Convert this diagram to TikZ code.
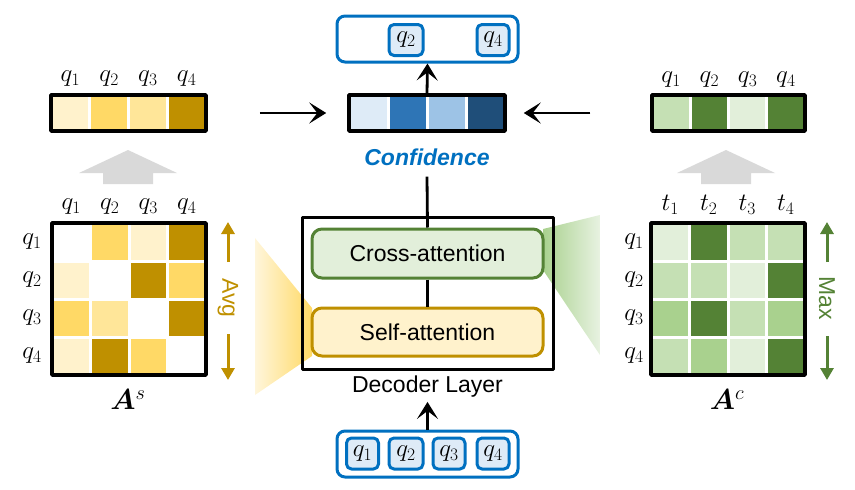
\RequirePackage{fix-cm}
\documentclass[tikz,border=0pt]{standalone}
\usepackage{bm}
\usepackage{fontspec}
\newfontfamily\arial{Liberation Sans}
\usetikzlibrary{arrows.meta}
\definecolor{Y1}{HTML}{FFF2CC}
\definecolor{Y2}{HTML}{FFE699}
\definecolor{Y3}{HTML}{FFD966}
\definecolor{Y4}{HTML}{BF9000}
\definecolor{G1}{HTML}{E2EFDA}
\definecolor{G2}{HTML}{C5E0B4}
\definecolor{G3}{HTML}{A9D18E}
\definecolor{G4}{HTML}{548235}
\definecolor{B1}{HTML}{DEEBF7}
\definecolor{B2}{HTML}{9DC3E6}
\definecolor{B3}{HTML}{2E75B6}
\definecolor{B4}{HTML}{1F4E79}
\definecolor{cblue}{HTML}{0070C0}
\definecolor{gbig}{HTML}{D9D9D9}
\begin{document}
\begin{tikzpicture}[x=1pt,y=-1pt,line join=round,
  lbl/.style={font=\fontsize{25}{29}\selectfont, inner sep=0pt},
  sans/.style={font=\arial\fontsize{23}{27}\selectfont},
  arr/.style={-{Stealth[length=17pt,width=21pt,inset=8pt]}, line width=2.8pt},
  cellgap/.style={white,line width=3pt},
  frame/.style={draw=black,line width=3.5pt,inner sep=0pt,fill=none},
  bluebox/.style={draw=cblue,line width=3pt,rounded corners=8pt,fill=white,inner sep=0pt,minimum width=181pt,minimum height=46pt},
  qbox/.style={draw=cblue,line width=3pt,rounded corners=5pt,fill=B1,inner sep=0pt,minimum width=32pt,minimum height=31pt,font=\fontsize{25}{29}\selectfont},
  attbox/.style={line width=3pt,rounded corners=10pt,minimum width=231pt,minimum height=48pt,inner sep=0pt,sans},
  sidearr/.style={-{Triangle[length=12pt,width=13pt]}, line width=3pt},
  bigarrow/.style={fill=gbig},
]
\useasboundingbox (0,0) rectangle (855,490);

% ---------- fading projections ----------
\shade[left color=Y1!70!white, right color=Y3] (255,238) -- (312,308) -- (312,356) -- (255,395) -- cycle;
\shade[left color=G3, right color=G1!80!white] (543,229) -- (600,215) -- (600,355) -- (543,270) -- cycle;

% ---------- left matrix A^s ----------
\foreach \row [count=\r from 0] in {{white,Y3,Y1,Y4},{Y1,white,Y4,Y3},{Y3,Y2,white,Y4},{Y1,Y4,Y3,white}}
  \foreach \c [count=\i from 0] in \row
    \fill[\c] ({52+\i*38.5},{223+\r*38}) rectangle ++(38.5,38);
\foreach \k in {1,2,3} {
  \draw[cellgap] ({52+\k*38.5},223) -- ++(0,152);
  \draw[cellgap] (52,{223+\k*38}) -- ++(154,0);
}
\node[frame,minimum width=154pt,minimum height=152pt] (lmat) at (129,299) {};
\foreach \i in {1,2,3,4} {
  \node[lbl] (lmc\i) at ({52+19.25+(\i-1)*38.5},207) {$q_{\i}$};
  \node[lbl] (lmr\i) at (32,{223+19+(\i-1)*38}) {$q_{\i}$};
}
\node[inner sep=0pt,font=\fontsize{29}{33}\selectfont] (As) at (128,400) {$\bm{A}^{s}$};

% Avg arrows
\node[sans,text=Y4,rotate=-90,inner sep=0pt] (avg) at (228,298) {Avg};
\coordinate (avgU1) at (228,262); \coordinate (avgU2) at (228,222);
\coordinate (avgD1) at (228,334); \coordinate (avgD2) at (228,380);
\draw[sidearr,Y4] (avgU1) -- (avgU2);
\draw[sidearr,Y4] (avgD1) -- (avgD2);

% ---------- right matrix A^c ----------
\foreach \row [count=\r from 0] in {{G1,G4,G2,G2},{G2,G2,G1,G4},{G3,G4,G2,G3},{G2,G3,G1,G4}}
  \foreach \c [count=\i from 0] in \row
    \fill[\c] ({651+\i*38.5},{223+\r*38}) rectangle ++(38.5,38);
\foreach \k in {1,2,3} {
  \draw[cellgap] ({651+\k*38.5},223) -- ++(0,152);
  \draw[cellgap] (651,{223+\k*38}) -- ++(154,0);
}
\node[frame,minimum width=154pt,minimum height=152pt] (rmat) at (728,299) {};
\foreach \i in {1,2,3,4} {
  \node[lbl] (rmc\i) at ({651+19.25+(\i-1)*38.5},205) {$t_{\i}$};
  \node[lbl] (rmr\i) at (634,{223+19+(\i-1)*38}) {$q_{\i}$};
}
\node[inner sep=0pt,font=\fontsize{29}{33}\selectfont] (Ac) at (727,400) {$\bm{A}^{c}$};

% Max arrows
\node[sans,text=G4,rotate=-90,inner sep=0pt] (max) at (827,298) {Max};
\coordinate (maxU1) at (827,262); \coordinate (maxU2) at (827,222);
\coordinate (maxD1) at (827,336); \coordinate (maxD2) at (827,380);
\draw[sidearr,G4] (maxU1) -- (maxU2);
\draw[sidearr,G4] (maxD1) -- (maxD2);

% ---------- gray block arrows ----------
\fill[bigarrow] (103,184) -- (103,173) -- (79,173) -- (128,150) -- (177,173) -- (153,173) -- (153,184) -- cycle;
\fill[bigarrow] (701,184) -- (701,173) -- (677,173) -- (726,150) -- (775,173) -- (751,173) -- (751,184) -- cycle;

% ---------- top-left bar ----------
\foreach \c [count=\i from 0] in {Y1,Y3,Y2,Y4}
  \fill[\c] ({51+\i*38.75},95) rectangle ++(38.75,36);
\foreach \k in {1,2,3} \draw[cellgap] ({51+\k*38.75},95) -- ++(0,36);
\node[frame,minimum width=155pt,minimum height=36pt] (lbar) at (128.5,113) {};
\foreach \i in {1,2,3,4}
  \node[lbl] (lbq\i) at ({51+19.4+(\i-1)*38.75},79) {$q_{\i}$};

% ---------- top-right bar ----------
\foreach \c [count=\i from 0] in {G2,G4,G1,G4}
  \fill[\c] ({652+\i*38.25},95) rectangle ++(38.25,36);
\foreach \k in {1,2,3} \draw[cellgap] ({652+\k*38.25},95) -- ++(0,36);
\node[frame,minimum width=153pt,minimum height=36pt] (rbar) at (728.5,113) {};
\foreach \i in {1,2,3,4}
  \node[lbl] (rbq\i) at ({652+19.1+(\i-1)*38.25},80) {$q_{\i}$};

% ---------- confidence bar ----------
\foreach \c [count=\i from 0] in {B1,B3,B2,B4}
  \fill[\c] ({349+\i*39},95) rectangle ++(39,36);
\foreach \k in {1,2,3} \draw[cellgap] ({349+\k*39},95) -- ++(0,36);
\node[frame,minimum width=156pt,minimum height=36pt] (cbar) at (427,113) {};
\node[inner sep=0pt,text=cblue,font=\arial\fontsize{23}{27}\selectfont\bfseries\itshape] (conf) at (427,157) {Confidence};

% ---------- output box ----------
\node[bluebox] (outbox) at (427.5,39) {};
\node[qbox,minimum width=34pt] (oq2) at (406,40) {$q_2$};
\node[qbox] (oq4) at (493,40) {$q_4$};

% ---------- decoder ----------
\node[draw,line width=3pt,minimum width=251pt,minimum height=152pt,inner sep=0pt] (dec) at (427.5,293) {};
\node[attbox,draw=G4,fill=G1,minimum height=49pt] (cross) at (427.5,253.5) {Cross-attention};
\node[attbox,draw=Y4,fill=Y1] (self) at (427.5,332) {Self-attention};
\node[sans,inner sep=0pt] (declabel) at (427.5,387) {Decoder Layer};

% ---------- input box ----------
\node[bluebox] (inbox) at (427.5,454) {};
\node[qbox] (iq1) at (362.5,453.5) {$q_1$};
\node[qbox,minimum width=34pt] (iq2) at (406,453.5) {$q_2$};
\node[qbox] (iq3) at (449,453.5) {$q_3$};
\node[qbox] (iq4) at (493,453.5) {$q_4$};

% ---------- connectors ----------
\draw[line width=2.8pt] (conf.south) ++(0,11) -- (cross.north);
\draw[line width=2.8pt] (cross.south) -- (self.north);
\draw[arr] (cbar.north) -- (outbox.south);
\draw[arr,shorten >=4pt] (inbox.north) -- (declabel.south);
\draw[arr,shorten <=52pt,shorten >=21pt] (lbar.east) -- (cbar.west);
\draw[arr,shorten <=60pt,shorten >=17pt] (rbar.west) -- (cbar.east);
\end{tikzpicture}
\end{document}
